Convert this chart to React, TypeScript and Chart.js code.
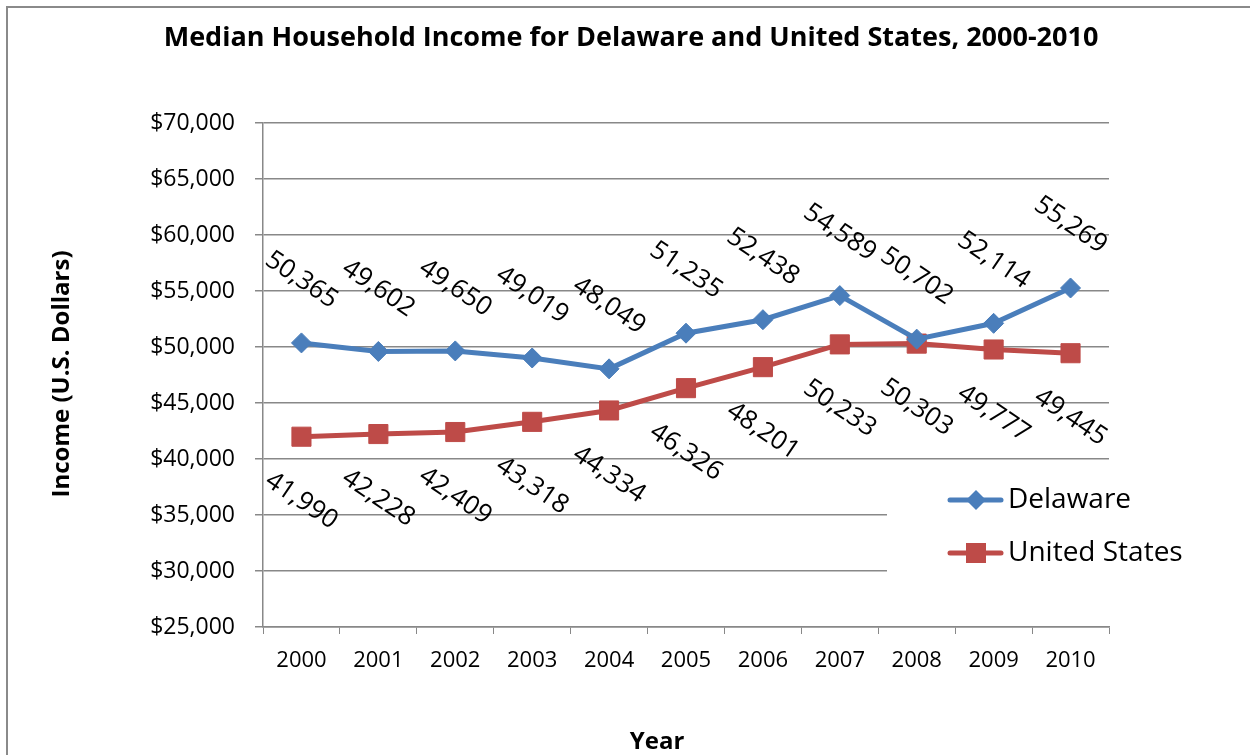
import React, { useEffect, useRef } from "react";
import { Chart, registerables } from "chart.js";

Chart.register(...registerables);

const years = ["2000", "2001", "2002", "2003", "2004", "2005", "2006", "2007", "2008", "2009", "2010"];
const delaware = [50365, 49602, 49650, 49019, 48049, 51235, 52438, 54589, 50702, 52114, 55269];
const unitedStates = [41990, 42228, 42409, 43318, 44334, 46326, 48201, 50233, 50303, 49777, 49445];
const yMin = 25000;
const yMax = 70000;
const yStep = 5000;

const titleText = "Median Household Income for Delaware and United States, 2000-2010";
const yTitleText = "Income (U.S. Dollars)";
const xTitleText = "Year";

const FONT = "'Open Sans', 'Noto Sans', sans-serif";
const BLUE = "#4A7EBB";
const RED = "#BE4B48";
const GRID = "#888888";

const fmt = (v: number) => v.toLocaleString("en-US");

const decorPlugin = {
  id: "decor",
  beforeDraw(chart: any) {
    const ctx = chart.ctx;
    ctx.save();
    ctx.fillStyle = "#ffffff";
    ctx.fillRect(0, 0, chart.width, chart.height);
    ctx.strokeStyle = "#8a8a8a";
    ctx.lineWidth = 2;
    ctx.beginPath();
    ctx.moveTo(7, chart.height + 5);
    ctx.lineTo(7, 7);
    ctx.lineTo(chart.width + 5, 7);
    ctx.stroke();
    ctx.restore();
  },
  afterDatasetsDraw(chart: any) {
    const ctx = chart.ctx;
    ctx.save();
    ctx.fillStyle = "#000";
    ctx.textAlign = "center";
    ctx.textBaseline = "middle";
    ctx.font = `bold 27px ${FONT}`;
    ctx.fillText(titleText, 631, 38);
    ctx.font = `bold 24px ${FONT}`;
    ctx.fillText(xTitleText, 657, 742);
    ctx.save();
    ctx.translate(62, 374);
    ctx.rotate(-Math.PI / 2);
    ctx.fillText(yTitleText, 0, 0);
    ctx.restore();

    // data labels
    ctx.font = `26px ${FONT}`;
    const angle = (34 * Math.PI) / 180;
    chart.data.datasets.forEach((ds: any, i: number) => {
      const meta = chart.getDatasetMeta(i);
      const off = i === 0 ? -63 : 64;
      meta.data.forEach((pt: any, j: number) => {
        ctx.save();
        ctx.translate(pt.x, pt.y + off);
        ctx.rotate(angle);
        ctx.fillText(fmt(ds.data[j]), 0, 0);
        ctx.restore();
      });
    });

    // legend
    ctx.fillStyle = "#ffffff";
    ctx.fillRect(887, 472, 310, 118);
    const items = [
      { label: chart.data.datasets[0].label, color: BLUE, style: "diamond", y: 500 },
      { label: chart.data.datasets[1].label, color: RED, style: "square", y: 553 },
    ];
    items.forEach((it) => {
      ctx.strokeStyle = it.color;
      ctx.lineWidth = 5;
      ctx.lineCap = "round";
      ctx.beginPath();
      ctx.moveTo(950, it.y);
      ctx.lineTo(1001, it.y);
      ctx.stroke();
      ctx.fillStyle = it.color;
      ctx.beginPath();
      if (it.style === "diamond") {
        ctx.moveTo(976, it.y - 10);
        ctx.lineTo(986, it.y);
        ctx.lineTo(976, it.y + 10);
        ctx.lineTo(966, it.y);
        ctx.closePath();
      } else {
        ctx.rect(966, it.y - 10, 20, 20);
      }
      ctx.fill();
      ctx.fillStyle = "#000";
      ctx.textAlign = "left";
      ctx.textBaseline = "middle";
      ctx.font = `28px ${FONT}`;
      ctx.fillText(it.label, 1008, it.y);
    });
    ctx.restore();
  },
};

export default function App() {
  const ref = useRef<HTMLCanvasElement | null>(null);
  useEffect(() => {
    document.body.style.margin = "0";
    const canvas = ref.current;
    if (!canvas) return;
    const chart = new Chart(canvas, {
      type: "line",
      data: {
        labels: years,
        datasets: [
          {
            label: "Delaware",
            data: delaware,
            borderColor: BLUE,
            backgroundColor: BLUE,
            borderWidth: 5,
            pointStyle: "rectRot",
            pointRadius: 10,
            pointBorderWidth: 1,
            pointBorderColor: BLUE,
            pointBackgroundColor: BLUE,
            tension: 0,
          },
          {
            label: "United States",
            data: unitedStates,
            borderColor: RED,
            backgroundColor: RED,
            borderWidth: 5,
            pointStyle: "rect",
            pointRadius: 13.5,
            pointBorderWidth: 1,
            pointBorderColor: RED,
            pointBackgroundColor: RED,
            tension: 0,
          },
        ],
      },
      options: {
        responsive: false,
        animation: false,
        layout: { padding: { top: 123, right: 141, left: 0, bottom: 0 } },
        plugins: {
          legend: { display: false },
          title: { display: false },
          tooltip: { enabled: false },
        },
        scales: {
          x: {
            type: "category",
            offset: true,
            afterFit: (s: any) => {
              s.height = 128;
            },
            grid: {
              offset: true,
              drawOnChartArea: false,
              drawTicks: true,
              tickLength: 7,
              color: GRID,
            },
            border: { display: true, color: GRID, width: 1.5 },
            ticks: {
              color: "#000",
              padding: 14,
              font: { family: FONT, size: 22 },
              maxRotation: 0,
            },
          },
          y: {
            min: yMin,
            max: yMax,
            afterFit: (s: any) => {
              s.width = 263;
            },
            grid: { color: GRID, lineWidth: 1.5, tickLength: 8 },
            border: { display: true, color: GRID, width: 1.5 },
            ticks: {
              stepSize: yStep,
              color: "#000",
              padding: 20,
              font: { family: FONT, size: 23 },
              callback: (v: any) => "$" + fmt(Number(v)),
            },
          },
        },
      },
      plugins: [decorPlugin],
    });
    return () => chart.destroy();
  }, []);
  return <canvas ref={ref} width={1250} height={755} style={{ display: "block" }} />;
}
